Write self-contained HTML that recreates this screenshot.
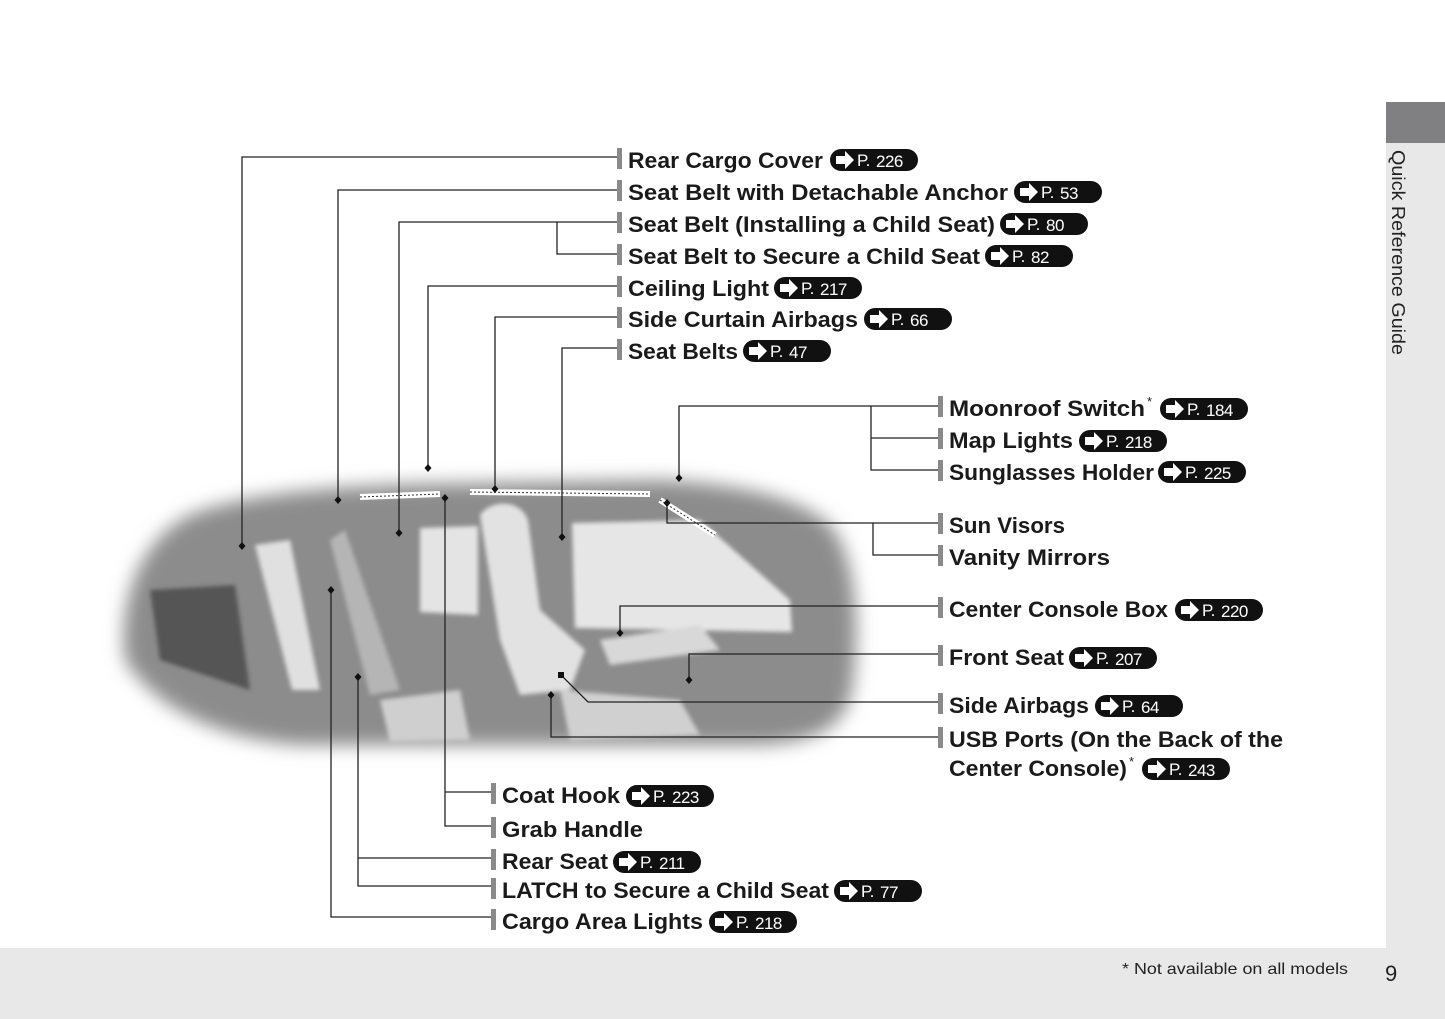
<!DOCTYPE html>
<html><head><meta charset="utf-8"><style>
body{margin:0;background:#fff;}
svg{display:block;}
text{font-family:"Liberation Sans",sans-serif;}
.l{font-size:22px;font-weight:bold;fill:#1a1a1a;}
.b{font-size:17px;fill:#fff;letter-spacing:-0.5px;}
</style></head><body>
<svg width="1445" height="1019" viewBox="0 0 1445 1019" xmlns="http://www.w3.org/2000/svg">
<defs>
<filter id="bl" x="-10%" y="-20%" width="120%" height="140%"><feGaussianBlur stdDeviation="9"/></filter>
<filter id="bl2"><feGaussianBlur stdDeviation="2"/></filter>
<g id="bd"><rect x="0" y="-11" width="88" height="22" rx="11" fill="#111"/><path d="M6 -4 h9 v-5 l9 9 -9 9 v-5 h-9z" fill="#fff"/><text x="27" y="6" class="b">P.</text></g>
<path id="dm" d="M0 -4 L3.5 0 L0 4 L-3.5 0Z"/>
</defs>
<rect x="1386" y="102" width="59" height="41" fill="#808083"/>
<rect x="1386" y="143" width="59" height="805" fill="#e8e8e8"/>
<rect x="0" y="948" width="1445" height="71" fill="#e8e8e8"/>
<text transform="translate(1392,150) rotate(90)" font-size="18" fill="#222" textLength="205" lengthAdjust="spacingAndGlyphs">Quick Reference Guide</text>
<text x="1122" y="974" font-size="16" fill="#222" textLength="226" lengthAdjust="spacingAndGlyphs">* Not available on all models</text>
<text x="1385" y="981" font-size="22" fill="#222">9</text>
<!-- car -->
<g filter="url(#bl)">
<path d="M125 660 C118 600 140 540 190 515 C240 495 320 487 420 484 L660 480 C740 484 800 498 830 525 C858 560 860 630 852 690 C845 725 820 742 760 745 L300 745 C230 740 160 715 125 660Z" fill="#8c8c8c"/>
</g>
<g filter="url(#bl2)">
<path d="M150 590 L235 585 L250 690 L160 660Z" fill="#555"/>
<path d="M420 528 L478 526 L478 615 L420 612Z" fill="#e4e4e4"/>
<path d="M572 523 L700 520 L790 600 L792 632 L575 628Z" fill="#e6e6e6"/>
<path d="M480 515 C490 500 520 498 528 520 L540 610 L585 650 L570 690 L520 695 L500 640Z" fill="#e2e2e2"/>
<path d="M255 545 L290 540 L320 690 L292 690Z" fill="#e0e0e0"/>
<path d="M330 540 L345 530 L400 690 L370 695Z" fill="#b5b5b5"/>
<path d="M600 640 L700 625 L720 650 L610 665Z" fill="#d8d8d8"/>
<path d="M380 700 L460 690 L470 740 L390 742Z" fill="#cfcfcf"/>
<path d="M560 690 L680 700 L700 735 L570 740Z" fill="#d0d0d0"/>
</g>
<path d="M360 497 L440 494 M470 492 L650 494 M660 500 L715 535" stroke="#fff" stroke-width="6" fill="none"/>
<path d="M360 497 L440 494 M470 492 L650 494 M660 500 L715 535" stroke="#333" stroke-width="1" stroke-dasharray="2,2" fill="none"/>
<g stroke="#222" stroke-width="1.3" fill="none">
<path d="M617 157 H242 V546"/>
<path d="M617 190 H338 V500"/>
<path d="M617 222 H399 V533"/>
<path d="M617 254 H557 V222"/>
<path d="M617 286 H428 V468"/>
<path d="M617 317 H495 V489"/>
<path d="M617 348 H562 V537"/>
<path d="M938 406 H679 V478"/>
<path d="M938 438 H871 V406 M938 470 H871 V438"/>
<path d="M938 523 H667 V503"/>
<path d="M938 555 H873 V523"/>
<path d="M938 606 H620 V633"/>
<path d="M938 654 H689 V680"/>
<path d="M938 702 H588 L561 675"/>
<path d="M938 737 H551 V695"/>
<path d="M491 792 H445 M445 498 V826 H491"/>
<path d="M491 858 H358 M358 677 V886 H491"/>
<path d="M491 917 H331 V590"/>
</g>
<g fill="#111">
<use href="#dm" x="242" y="546"/><use href="#dm" x="338" y="500"/><use href="#dm" x="399" y="533"/><use href="#dm" x="428" y="468"/><use href="#dm" x="495" y="489"/><use href="#dm" x="562" y="537"/><use href="#dm" x="679" y="478"/><use href="#dm" x="667" y="503"/><use href="#dm" x="620" y="633"/><use href="#dm" x="689" y="680"/><rect x="558" y="672" width="6" height="6"/><use href="#dm" x="551" y="695"/><use href="#dm" x="445" y="498"/><use href="#dm" x="358" y="677"/><use href="#dm" x="331" y="590"/>
</g>
<g fill="#8a8a8a">
<rect x="617" y="148" width="5" height="21"/><rect x="617" y="180" width="5" height="21"/><rect x="617" y="212" width="5" height="21"/><rect x="617" y="244" width="5" height="21"/><rect x="617" y="276" width="5" height="21"/><rect x="617" y="307" width="5" height="21"/><rect x="617" y="339" width="5" height="21"/>
<rect x="938" y="396" width="5" height="21"/><rect x="938" y="428" width="5" height="21"/><rect x="938" y="460" width="5" height="21"/><rect x="938" y="513" width="5" height="21"/><rect x="938" y="545" width="5" height="21"/><rect x="938" y="597" width="5" height="21"/><rect x="938" y="645" width="5" height="21"/><rect x="938" y="693" width="5" height="21"/><rect x="938" y="727" width="5" height="21"/>
<rect x="491" y="783" width="5" height="21"/><rect x="491" y="817" width="5" height="21"/><rect x="491" y="849" width="5" height="21"/><rect x="491" y="878" width="5" height="21"/><rect x="491" y="909" width="5" height="21"/>
</g>
<text class="l" x="628" y="168" textLength="195" lengthAdjust="spacingAndGlyphs">Rear Cargo Cover</text><use href="#bd" x="830" y="160"/><text class="b" x="876" y="167">226</text>
<text class="l" x="628" y="200" textLength="380" lengthAdjust="spacingAndGlyphs">Seat Belt with Detachable Anchor</text><use href="#bd" x="1014" y="192"/><text class="b" x="1060" y="199">53</text>
<text class="l" x="628" y="232" textLength="367" lengthAdjust="spacingAndGlyphs">Seat Belt (Installing a Child Seat)</text><use href="#bd" x="1000" y="224"/><text class="b" x="1046" y="231">80</text>
<text class="l" x="628" y="264" textLength="352" lengthAdjust="spacingAndGlyphs">Seat Belt to Secure a Child Seat</text><use href="#bd" x="985" y="256"/><text class="b" x="1031" y="263">82</text>
<text class="l" x="628" y="296" textLength="141" lengthAdjust="spacingAndGlyphs">Ceiling Light</text><use href="#bd" x="774" y="288"/><text class="b" x="820" y="295">217</text>
<text class="l" x="628" y="327" textLength="230" lengthAdjust="spacingAndGlyphs">Side Curtain Airbags</text><use href="#bd" x="864" y="319"/><text class="b" x="910" y="326">66</text>
<text class="l" x="628" y="359" textLength="110" lengthAdjust="spacingAndGlyphs">Seat Belts</text><use href="#bd" x="743" y="351"/><text class="b" x="789" y="358">47</text>
<text class="l" x="949" y="416" textLength="196" lengthAdjust="spacingAndGlyphs">Moonroof Switch</text><text x="1147" y="406" font-size="13" fill="#1a1a1a">*</text><use href="#bd" x="1160" y="409"/><text class="b" x="1206" y="416">184</text>
<text class="l" x="949" y="448" textLength="124" lengthAdjust="spacingAndGlyphs">Map Lights</text><use href="#bd" x="1079" y="441"/><text class="b" x="1125" y="448">218</text>
<text class="l" x="949" y="480" textLength="205" lengthAdjust="spacingAndGlyphs">Sunglasses Holder</text><use href="#bd" x="1158" y="472"/><text class="b" x="1204" y="479">225</text>
<text class="l" x="949" y="533" textLength="116" lengthAdjust="spacingAndGlyphs">Sun Visors</text>
<text class="l" x="949" y="565" textLength="161" lengthAdjust="spacingAndGlyphs">Vanity Mirrors</text>
<text class="l" x="949" y="617" textLength="219" lengthAdjust="spacingAndGlyphs">Center Console Box</text><use href="#bd" x="1175" y="610"/><text class="b" x="1221" y="617">220</text>
<text class="l" x="949" y="665" textLength="115" lengthAdjust="spacingAndGlyphs">Front Seat</text><use href="#bd" x="1069" y="658"/><text class="b" x="1115" y="665">207</text>
<text class="l" x="949" y="713" textLength="140" lengthAdjust="spacingAndGlyphs">Side Airbags</text><use href="#bd" x="1095" y="706"/><text class="b" x="1141" y="713">64</text>
<text class="l" x="949" y="747" textLength="334" lengthAdjust="spacingAndGlyphs">USB Ports (On the Back of the</text>
<text class="l" x="949" y="776" textLength="178" lengthAdjust="spacingAndGlyphs">Center Console)</text><text x="1129" y="766" font-size="13" fill="#1a1a1a">*</text><use href="#bd" x="1142" y="769"/><text class="b" x="1188" y="776">243</text>
<text class="l" x="502" y="803" textLength="118" lengthAdjust="spacingAndGlyphs">Coat Hook</text><use href="#bd" x="626" y="796"/><text class="b" x="672" y="803">223</text>
<text class="l" x="502" y="837" textLength="141" lengthAdjust="spacingAndGlyphs">Grab Handle</text>
<text class="l" x="502" y="869" textLength="106" lengthAdjust="spacingAndGlyphs">Rear Seat</text><use href="#bd" x="613" y="862"/><text class="b" x="659" y="869">211</text>
<text class="l" x="502" y="898" textLength="327" lengthAdjust="spacingAndGlyphs">LATCH to Secure a Child Seat</text><use href="#bd" x="834" y="891"/><text class="b" x="880" y="898">77</text>
<text class="l" x="502" y="929" textLength="201" lengthAdjust="spacingAndGlyphs">Cargo Area Lights</text><use href="#bd" x="709" y="922"/><text class="b" x="755" y="929">218</text>
</svg>
</body></html>
